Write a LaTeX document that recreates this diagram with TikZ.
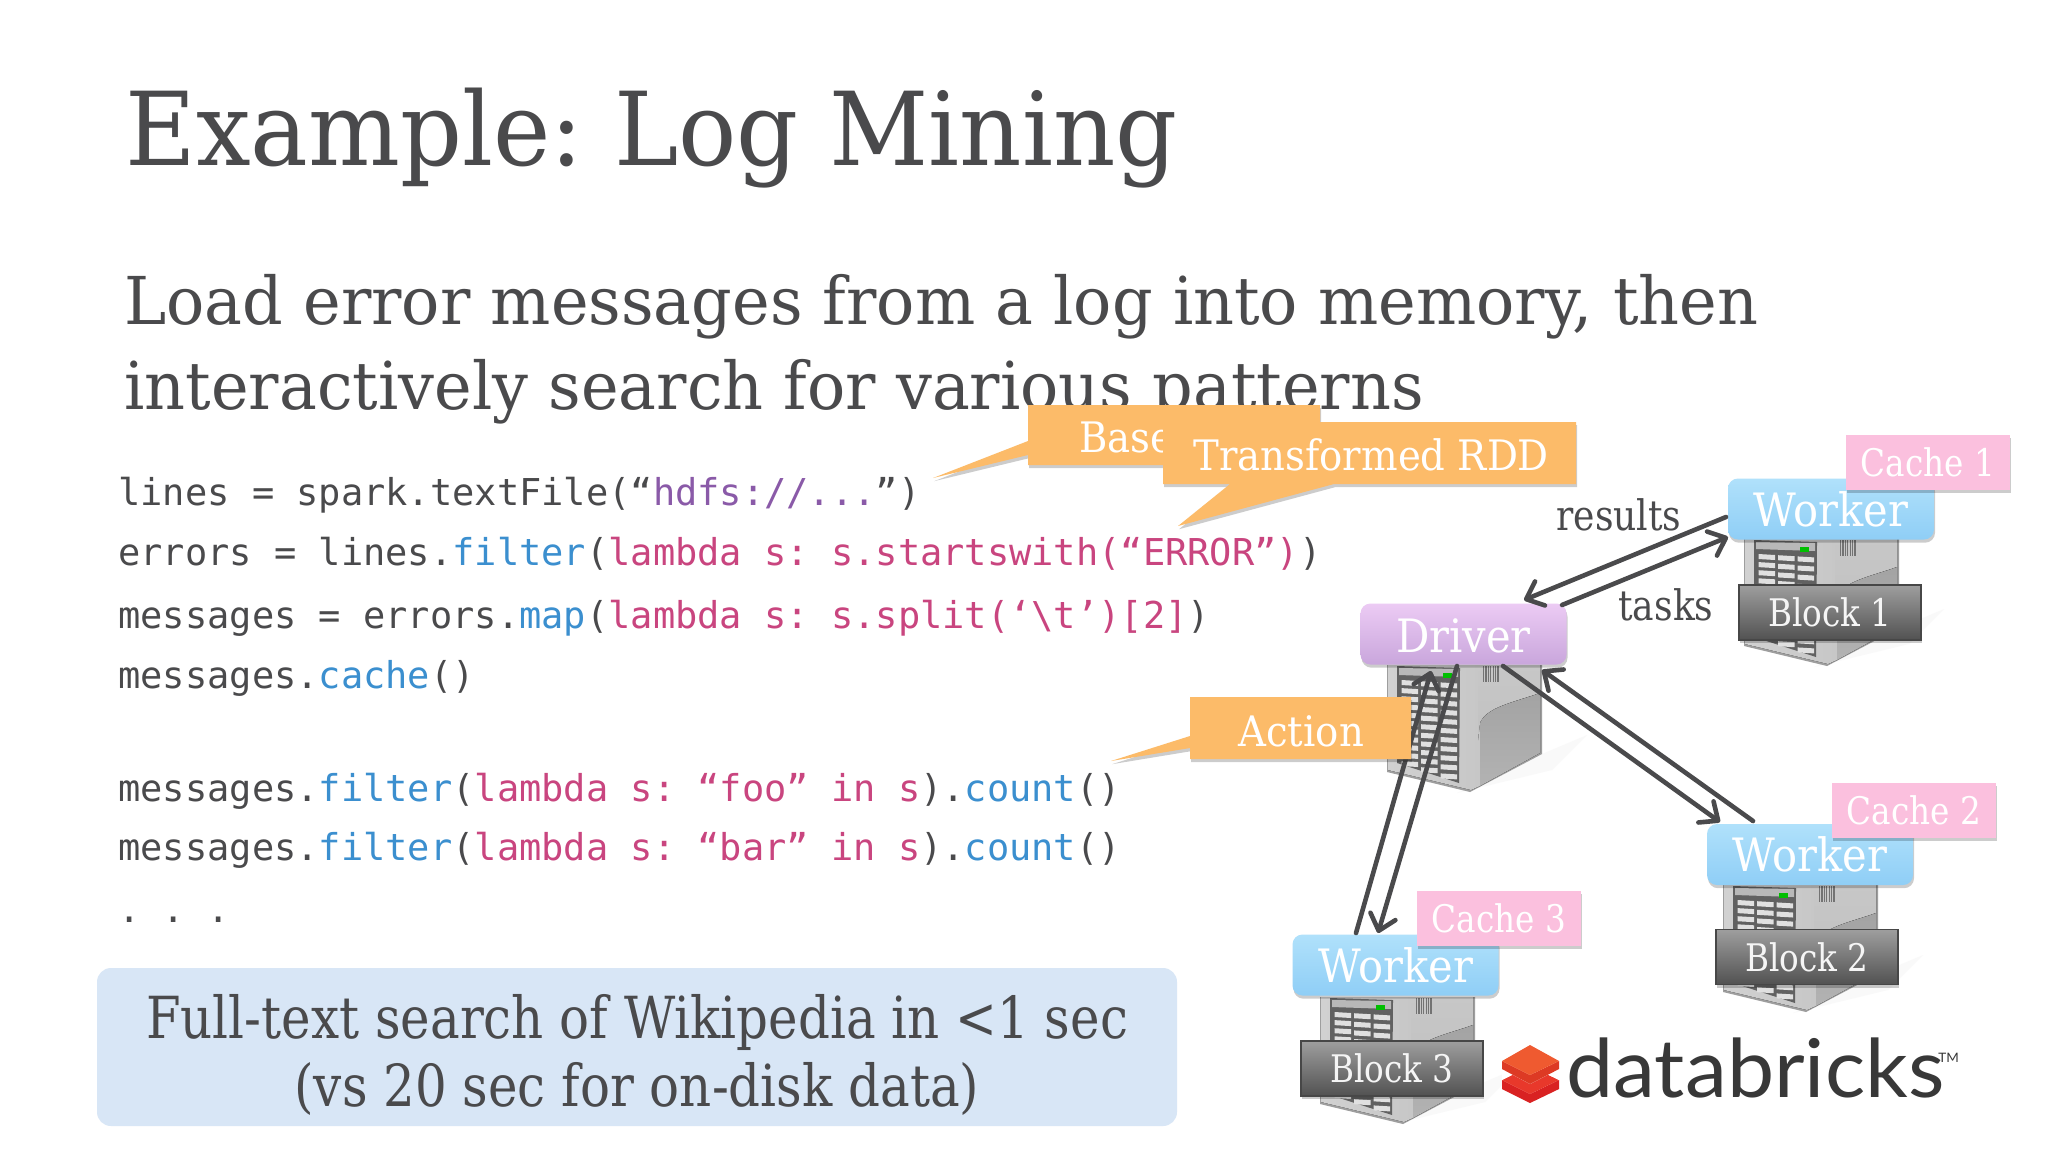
\documentclass[tikz,border=0pt]{standalone}
\usepackage{fontspec}
\usetikzlibrary{shadows,arrows.meta}
\AtBeginDocument{\frenchspacing}
\newfontfamily\slab[FakeStretch=0.86]{DejaVu Serif}
\newfontfamily\slabT[FakeStretch=0.95]{DejaVu Serif}
\newfontfamily\slabL[FakeStretch=0.963]{DejaVu Serif}
\newfontfamily\slabC[FakeStretch=0.92]{DejaVu Serif}
\newfontfamily\slabW[FakeStretch=0.905]{DejaVu Serif}
\newfontfamily\codef{DejaVu Sans Mono}
\newfontfamily\logof[FakeStretch=1.04]{Lato}
\definecolor{ink}{HTML}{4A4A4C}
\definecolor{cblue}{HTML}{3B8FCF}
\definecolor{cpink}{HTML}{C9457F}
\definecolor{cpurp}{HTML}{8A5AA8}
\definecolor{calloutc}{HTML}{FCBB69}
\definecolor{noteblue}{HTML}{D8E6F6}
\definecolor{cachec}{HTML}{FBC0DE}
\definecolor{logoa}{HTML}{D92222}
\definecolor{logob}{HTML}{E8382B}
\definecolor{logoc}{HTML}{DD3A24}
\definecolor{logod}{HTML}{EF5A30}
\newcommand{\kw}[1]{\textcolor{cblue}{#1}}
\newcommand{\pk}[1]{\textcolor{cpink}{#1}}
\newcommand{\pu}[1]{\textcolor{cpurp}{#1}}
\newcommand{\fs}[1]{\fontsize{#1}{#1}\selectfont}
\newcommand{\servericon}[2]{%
 \begin{scope}[shift={(#1,#2)}]
  \fill[black!2.5] (70,128) -- (155,89) -- (200,70) -- (165,105) -- cycle;
  \fill[black!38] (0,0) -- (0,107) -- (83,127) -- (155,89) -- (155,0) -- cycle;
  \fill[left color=black!18,right color=black!22] (1,0) -- (1,105) -- (84,125) -- (93,121) -- (93,0) -- cycle;
  \fill[top color=black!22,bottom color=black!24] (91,0) -- (153,0) -- (153,28) .. controls (125,38) and (100,42) .. (93,58) -- (91,75) -- cycle;
  \fill[top color=black!36,bottom color=black!30] (93,121) -- (93,58) .. controls (100,42) and (125,38) .. (153,28) -- (153,88) -- cycle;
  \fill[black!62] (10,1) -- (73,3) -- (72,118) -- (10,98) -- cycle;
  \foreach \r in {0,...,10}{\foreach \c in {0,1,2}{
    \fill[black!12] ({14.5+\c*19.5},{15+\r*8.1+\c*1.0*\r/2+\c*1.2}) -- ++(16.5,1) -- ++(0,5) -- ++(-16.5,-1) -- cycle;}}
  \fill[black!28] (12,3) -- (71,4) -- (71,12) -- (12,10) -- cycle;
  \fill[green!75!black] (56,8) rectangle (65,13);
  \foreach \v in {0,...,6}{\fill[black!55] ({96+\v*2.4},1) rectangle ++(1.2,16);}
 \end{scope}}
\tikzset{
 softshadow/.style={drop shadow={shadow xshift=0.5pt,shadow yshift=-1.6pt,opacity=.2,fill=black}},
 txt/.style={anchor=base west,inner sep=0pt,text=ink},
 code/.style={txt,font=\codef\fs{18.5}},
 callouttext/.style={anchor=base west,inner sep=0pt,text=white,font=\slabC\fs{21}},
 calloutshape/.style={fill=calloutc,softshadow},
 boxtext/.style={inner sep=0pt,font=\slabW\fs{23},text=white,softshadow},
 workerbox/.style={boxtext,rounded corners=5pt,minimum width=103pt,minimum height=30.5pt,top color={rgb,255:red,176;green,225;blue,251},bottom color={rgb,255:red,143;green,206;blue,246}},
 driverbox/.style={workerbox,top color={rgb,255:red,236;green,203;blue,244},bottom color={rgb,255:red,201;green,166;blue,220}},
 cachebox/.style={inner sep=0pt,font=\slab\fs{19},text=white,fill=cachec,softshadow,minimum width=82pt,minimum height=27.5pt},
 blockbox/.style={inner sep=0pt,font=\slab\fs{19},text=black!4,softshadow,draw=black!72,line width=0.6pt,top color=black!38,bottom color=black!68,minimum width=91pt,minimum height=27.5pt},
 link/.style={draw=ink,line width=2.3pt,line cap=round,-{Straight Barb[length=7.5pt,width=13pt,line width=2.3pt,round]}},
}
\begin{document}
\begin{tikzpicture}[x=0.5pt,y=-0.5pt]
\useasboundingbox (0,0) rectangle (2048,1152);
\fill[white] (0,0) rectangle (2048,1152);
% title and lead text
\node[txt,font=\slabT\fs{51}] (title) at (125,165) {Example: Log Mining};
\node[txt,font=\slabL\fs{33}] (lead1) at (124,324) {Load error messages from a log into memory, then};
\node[txt,font=\slabL\fs{33}] (lead2) at (124,409) {interactively search for various patterns};
% code
\node[code] (c1) at (118,505) {lines = spark.textFile(“\pu{hdfs://...}”)};
\node[code] (c2) at (118,565) {errors = lines.\kw{filter}(\pk{lambda s: s.startswith(“ERROR”)})};
\node[code] (c3) at (118,628) {messages = errors.\kw{map}(\pk{lambda s: s.split(‘\textbackslash t’)[2]})};
\node[code] (c4) at (118,688) {messages.\kw{cache}()};
\node[code] (c5) at (118,801) {messages.\kw{filter}(\pk{lambda s: “foo” in s}).\kw{count}()};
\node[code] (c6) at (118,860) {messages.\kw{filter}(\pk{lambda s: “bar” in s}).\kw{count}()};
\node[code] (c7) at (118,922) {. . .};
% note
\node[fill=noteblue,rounded corners=7pt,minimum width=540pt,minimum height=79pt,inner sep=0pt] (note) at (637,1047) {};
\node[txt,anchor=base,font=\slab\fs{29}] (n1) at (637,1038) {Full-text search of Wikipedia in <1 sec};
\node[txt,anchor=base,font=\slab\fs{29}] (n2) at (637,1106) {(vs 20 sec for on-disk data)};
% servers
\servericon{1744}{539}
\servericon{1387}{665}
\servericon{1723}{885}
\servericon{1320}{997}
% driver and workers
\node[driverbox,text depth=0pt] (driver) at (1463.5,634) {\raisebox{-1.5pt}{Driver}};
\node[workerbox] (w1) at (1831,509) {\raisebox{-1.5pt}{Worker}};
\node[workerbox] (w2) at (1810,854.5) {\raisebox{-1.5pt}{Worker}};
\node[workerbox] (w3) at (1395.5,965) {\raisebox{-1.5pt}{Worker}};
\node[cachebox] (k1) at (1928,462.5) {\raisebox{-2.2pt}{Cache 1}};
\node[cachebox] (k2) at (1914,810.5) {\raisebox{-2.2pt}{Cache 2}};
\node[cachebox] (k3) at (1499,918) {\raisebox{-2.2pt}{Cache 3}};
\node[blockbox] (b1) at (1830,612.5) {\raisebox{-2.2pt}{Block 1}};
\node[blockbox] (b2) at (1807,957) {\raisebox{-2.2pt}{Block 2}};
\node[blockbox] (b3) at (1392,1068.5) {\raisebox{-2.2pt}{Block 3}};
% connectors
\coordinate (r1) at (1726,517); \coordinate (r2) at (1524,600);
\coordinate (t1) at (1562,605); \coordinate (t2) at (1728,537);
\coordinate (d1) at (1503,666); \coordinate (d2) at (1720,822);
\coordinate (e1) at (1753,821); \coordinate (e2) at (1542,670);
\coordinate (f1) at (1457,666); \coordinate (f2) at (1378,933);
\coordinate (g1) at (1356,933); \coordinate (g2) at (1431,671);
\draw[link] (r1) -- (r2);
\draw[link] (t1) -- (t2);
\draw[link] (d1) -- (d2);
\draw[link] (e1) -- (e2);
\draw[link] (f1) -- (f2);
\draw[link] (g1) -- (g2);
\node[txt,font=\slab\fs{21}] (results) at (1556,530) {results};
\node[txt,font=\slab\fs{21}] (tasks) at (1618,620) {tasks};
% callouts
\path[calloutshape] (933,478) -- (1028,441) -- (1028,405) -- (1320,405) -- (1320,465) -- (1028,465) -- (1028,455) -- cycle;
\node[callouttext] (base) at (1079,452) {Base};
\path[calloutshape] (1178,526) -- (1230,484) -- (1163,484) -- (1163,422) -- (1576,422) -- (1576,484) -- (1334,484) -- cycle;
\node[callouttext] (trans) at (1193,470) {Transformed RDD};
\path[calloutshape] (1111,761) -- (1190,736) -- (1190,697) -- (1411,697) -- (1411,759) -- (1190,759) -- (1190,748) -- cycle;
\node[callouttext] (action) at (1238,746) {Action};
% logo
\fill[logoa] (1502,1080) -- (1502,1089) -- (1530,1103) -- (1559,1089) -- (1559,1080) -- (1530,1094) -- cycle;
\fill[logob] (1502,1080) -- (1530,1066) -- (1559,1080) -- (1530,1094) -- cycle;
\fill[white] (1502,1069) -- (1530,1084) -- (1559,1069) -- (1559,1080) -- (1530,1066) -- (1502,1080) -- cycle;
\fill[logoc] (1502,1061) -- (1502,1069) -- (1530,1084) -- (1559,1069) -- (1559,1061) -- (1530,1075) -- cycle;
\fill[logod] (1502,1061) -- (1530,1045) -- (1559,1061) -- (1530,1075) -- cycle;
\node[txt,font=\logof\fs{40.5},text=black!78] (brand) at (1566,1097) {databricks};
\node[txt,font=\logof\fs{6.5},text=black!78] (tm) at (1938,1062) {TM};
\end{tikzpicture}
\end{document}
